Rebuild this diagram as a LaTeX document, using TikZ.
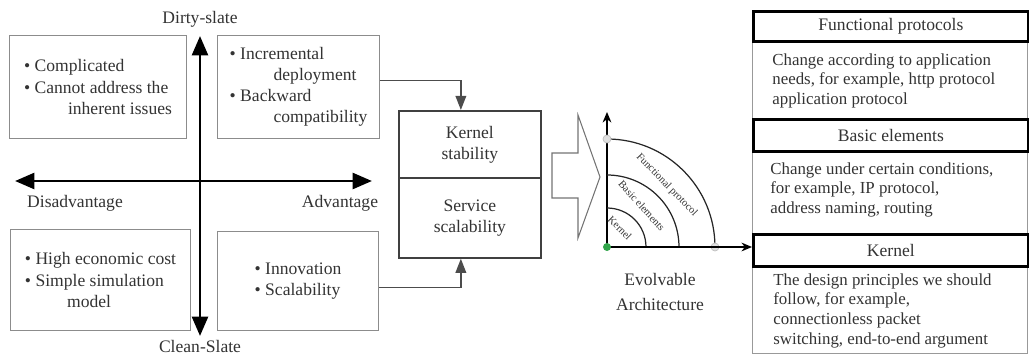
\documentclass[tikz,border=0pt]{standalone}
\usepackage{fontspec}
\setmainfont{Liberation Serif}
\usetikzlibrary{arrows.meta,positioning,calc}
\definecolor{dotgreen}{RGB}{50,165,75}

\begin{document}
\begin{tikzpicture}[x=0.02cm,y=-0.02cm,font=\fontsize{10}{12}\selectfont,
  qbox/.style={draw=black!45,line width=0.6pt,align=left,text=black!80,anchor=north west,inner sep=2pt},
  cbox/.style={draw=black!75,line width=1pt,align=center,anchor=north west,text=black!80,minimum width=2.84cm},
  axis/.style={line width=1.7pt,{Triangle[length=11pt,width=9pt]}-{Triangle[length=11pt,width=9pt]}},
  conn/.style={draw=black!70,line width=1pt,-{Triangle[length=8pt,width=6pt]}},
  lbl/.style={text=black!80},
  hdr/.style={draw=black,line width=1.6pt,minimum width=5.5cm,anchor=north west,text=black!80,inner sep=0pt},
  body/.style={draw=black!40,line width=0.6pt,minimum width=5.5cm,anchor=north west,inner sep=0pt},
  desc/.style={align=left,anchor=north west,inner sep=0pt,text=black!80,font=\fontsize{9.6}{11.2}\selectfont},
  arcline/.style={line width=0.7pt,black!85},
  arclbl/.style={font=\fontsize{6}{7}\selectfont,text=black!80,inner sep=0pt},
  dot/.style={circle,inner sep=0pt,minimum size=0.16cm}]
\useasboundingbox (0,0) rectangle (1029,355);

% quadrant boxes
\node[qbox,minimum width=3.54cm,minimum height=2.06cm] (dsneg) at (9,35) {\textbullet\ Complicated\\\textbullet\ Cannot address the\\\hspace*{2.5em}inherent issues};
\node[qbox,minimum width=3.24cm,minimum height=2.06cm] (dspos) at (217,35) {\textbullet\ Incremental\\\hspace*{2.5em}deployment\\\textbullet\ Backward\\\hspace*{2.5em}compatibility};
\node[qbox,minimum width=3.6cm,minimum height=2.02cm] (csneg) at (10,229) {\textbullet\ High economic cost\\\textbullet\ Simple simulation\\\hspace*{2.4em}model};
\node[qbox,minimum width=3.22cm,minimum height=1.98cm] (cspos) at (217,231) {\textbullet\ Innovation\\\textbullet\ Scalability};

% axes
\coordinate (vtop) at (200,36);
\coordinate (vbot) at (200,336);
\coordinate (hleft) at (15,181);
\coordinate (hright) at (372,181);
\draw[axis] (vbot) -- (vtop);
\draw[axis] (hleft) -- (hright);
\node[lbl] (dirty) at (200,19) {Dirty-slate};
\node[lbl] (clean) at (200,346) {Clean-Slate};
\node[lbl] (disadv) at (75,203) {Disadvantage};
\node[lbl] (adv) at (340,203) {Advantage};

% kernel / service box
\node[cbox,minimum height=1.34cm] (kstab) at (398,110) {Kernel\\stability};
\node[cbox,minimum height=1.6cm] (sscal) at (398,177) {Service\\scalability};
\draw[conn] ([yshift=0.13cm]dspos.east) -| ([xshift=-0.18cm]kstab.north);
\draw[conn] ([yshift=-0.13cm]cspos.east) -| ([xshift=-0.18cm]sscal.south);

% hollow arrow
\draw[black!55,line width=0.6pt] (552,153) -- (578,153) -- (578,115) -- (600,177) -- (578,238) -- (578,198) -- (552,198) -- cycle;

% evolvable architecture
\begin{scope}[shift={(607,247)},x=0.02cm,y=0.02cm]
  \coordinate (O) at (0,0);
  \coordinate (ytip) at (0,135);
  \draw[line width=0.9pt,-{Stealth[length=6pt,width=5pt]}] (O) -- (ytip);
  \draw[arcline] (0,108) arc[start angle=90,end angle=0,radius=2.16cm];
  \draw[arcline] (0,72) arc[start angle=90,end angle=0,radius=1.44cm];
  \draw[arcline] (0,39) arc[start angle=90,end angle=0,radius=0.78cm];
  \node[arclbl,rotate=-46] (lfp) at (46:86) {Functional protocol};
  \node[arclbl,rotate=-48] (lbe) at (50:54) {Basic elements};
  \node[arclbl,rotate=-45] (lkn) at (56:23) {Kernel};
  \node[dot,fill=black!12,draw=black!25] (gtop) at (0,108) {};
  \node[dot,fill=black!12,draw=black!25] (gright) at (108,0) {};
\end{scope}
\node[lbl,align=center,font=\fontsize{10}{14}\selectfont] (evo) at (660,292) {Evolvable\\Architecture};

% right column
\node[body,minimum height=1.56cm] (fpbody) at (752,40) {};
\node[body,minimum height=1.66cm] (bebody) at (752,150) {};
\node[body,minimum height=1.76cm] (knbody) at (752,265) {};
\node[hdr,minimum height=0.6cm] (fphead) at (752,10) {Functional protocols};
\node[hdr,minimum height=0.64cm] (behead) at (752,118) {Basic elements};
\node[hdr,minimum height=0.64cm] (knhead) at (752,233) {Kernel};
\node[desc] (fptext) at (772,53) {Change according to application\\needs, for example, http protocol\\application protocol};
\node[desc] (betext) at (770,162) {Change under certain conditions,\\for example, IP protocol,\\address naming, routing};
\node[desc] (kntext) at (773,273) {The design principles we should\\follow, for example,\\connectionless packet\\switching, end-to-end argument};

\draw[line width=0.9pt,-{Stealth[length=6pt,width=5pt]}] (O) -- (O -| knhead.west);
\node[dot,fill=dotgreen] (odot) at (O) {};
\end{tikzpicture}
\end{document}
